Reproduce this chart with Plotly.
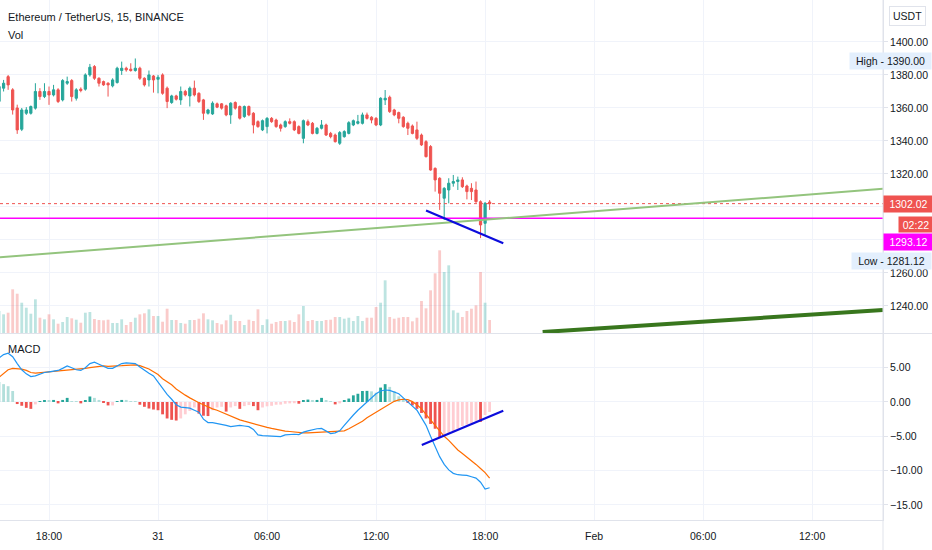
import pandas as pd
import plotly.graph_objects as go

# ---------------- data (15-minute bars, ETH/USDT) ----------------
bar_start = "2021-01-30 15:15"
bar_count = 109

opens = [1364.0, 1372.0, 1379.0, 1371.0, 1360.0, 1347.1, 1356.8, 1356.8, 1359.9, 1370.0,
         1366.9, 1370.0, 1367.9, 1371.0, 1364.9, 1375.0, 1376.6, 1365.9, 1371.4, 1371.4,
         1380.05, 1385.1, 1378.0, 1376.0, 1375.0, 1373.4, 1375.4, 1382.7, 1384.1, 1383.5,
         1382.7, 1384.1, 1378.0, 1377.0, 1379.4, 1377.4, 1380.05, 1372.0, 1363.3, 1367.3,
         1364.9, 1370.0, 1367.3, 1372.0, 1368.9, 1364.9, 1356.8, 1356.4, 1362.5, 1362.5,
         1361.3, 1355.8, 1363.3, 1360.9, 1354.8, 1360.9,
         1356.8, 1351.7, 1346.7, 1348.7, 1353.7, 1352.7, 1349.7, 1348.7, 1351.7, 1351.7,
         1348.7, 1341.6, 1351.7, 1350.7, 1344.6, 1347.7, 1349.7, 1344.6, 1343.6, 1338.6,
         1342.6, 1344.6, 1349.7, 1350.7, 1350.7, 1355.8, 1354.4, 1353.7, 1349.7, 1364.9,
         1366.5, 1358.8, 1357.2, 1354.4, 1350.7, 1349.1, 1346.7, 1343.6, 1339.6, 1336.6,
         1323.4, 1317.4, 1305.3, 1310.3, 1314.4, 1315.4, 1316.4, 1312.7, 1311.3, 1310.3,
         1303.2, 1290.1, 1303.0]
highs = [1375.0, 1377.0, 1380.0, 1372.0, 1362.0, 1360.0, 1360.5, 1361.5, 1375.0, 1372.0,
         1375.0, 1373.0, 1374.0, 1372.0, 1377.5, 1379.0, 1377.5, 1372.0, 1372.5, 1381.0,
         1386.7, 1386.0, 1378.6, 1376.6, 1375.6, 1378.0, 1385.0, 1388.1, 1385.0, 1387.1,
         1390.0, 1385.0, 1378.6, 1382.7, 1380.0, 1380.05, 1381.0, 1373.0, 1368.0, 1368.0,
         1373.0, 1371.0, 1373.0, 1376.6, 1369.5, 1365.5, 1359.5, 1364.0, 1363.3, 1363.0,
         1362.0, 1363.5, 1364.0, 1361.5, 1361.5, 1361.5,
         1357.5, 1352.5, 1353.0, 1354.5, 1354.5, 1353.5, 1350.5, 1352.5, 1353.7, 1352.5,
         1349.5, 1353.0, 1353.0, 1351.5, 1348.5, 1352.7, 1350.5, 1345.5, 1344.5, 1346.0,
         1346.5, 1352.0, 1353.0, 1355.8, 1357.2, 1357.2, 1355.0, 1354.5, 1366.5, 1370.9,
         1367.5, 1359.5, 1357.8, 1355.0, 1351.7, 1350.0, 1351.7, 1344.5, 1340.5, 1337.5,
         1324.0, 1318.0, 1312.0, 1317.4, 1319.4, 1318.4, 1318.0, 1313.5, 1314.4, 1315.4,
         1304.0, 1303.0, 1304.2]
lows = [1362.0, 1370.0, 1371.0, 1356.0, 1344.3, 1346.0, 1355.8, 1356.0, 1359.0, 1364.9,
        1366.0, 1361.9, 1367.0, 1363.0, 1364.0, 1374.0, 1363.9, 1364.5, 1369.5, 1370.5,
        1379.0, 1377.0, 1373.0, 1373.4, 1366.9, 1372.5, 1374.8, 1380.05, 1382.0, 1382.0,
        1382.0, 1377.0, 1373.0, 1373.0, 1369.3, 1368.9, 1368.0, 1359.9, 1362.5, 1364.5,
        1361.9, 1367.0, 1360.9, 1367.0, 1363.0, 1352.8, 1356.0, 1355.8, 1359.9, 1359.0,
        1355.0, 1350.4, 1359.0, 1353.0, 1354.0, 1355.0,
        1344.6, 1348.0, 1346.0, 1344.6, 1351.0, 1348.0, 1345.7, 1348.0, 1350.0, 1346.0,
        1344.0, 1338.6, 1349.0, 1344.0, 1344.0, 1347.0, 1343.0, 1341.6, 1339.0, 1337.6,
        1342.0, 1344.0, 1349.0, 1350.0, 1350.0, 1353.0, 1350.7, 1349.0, 1349.0, 1361.8,
        1357.0, 1355.0, 1350.7, 1348.0, 1343.6, 1344.0, 1340.6, 1337.0, 1330.0, 1322.0,
        1309.3, 1298.2, 1292.1, 1302.2, 1312.3, 1310.3, 1311.5, 1304.6, 1304.2, 1302.5,
        1281.12, 1283.0, 1298.2]
closes = [1373.0, 1375.0, 1374.0, 1358.8, 1346.7, 1358.8, 1358.8, 1360.9, 1370.0, 1366.9,
          1370.0, 1367.9, 1371.0, 1363.9, 1376.6, 1376.0, 1366.9, 1371.0, 1370.6, 1380.05,
          1384.7, 1378.0, 1375.0, 1374.0, 1374.0, 1377.0, 1384.1, 1384.1, 1383.1, 1382.7,
          1384.1, 1378.0, 1374.0, 1380.05, 1377.0, 1378.6, 1368.9, 1363.9, 1367.3, 1365.3,
          1370.0, 1367.9, 1372.0, 1367.9, 1363.9, 1356.8, 1358.8, 1362.9, 1360.5, 1359.9,
          1355.8, 1362.9, 1359.9, 1353.8, 1360.9, 1355.8,
          1349.7, 1348.7, 1352.3, 1353.7, 1351.7, 1348.7, 1347.7, 1351.7, 1350.7, 1346.7,
          1344.6, 1352.3, 1349.7, 1344.6, 1347.7, 1349.7, 1343.6, 1342.6, 1339.6, 1345.1,
          1345.7, 1351.1, 1352.3, 1351.7, 1355.8, 1353.7, 1352.7, 1349.7, 1365.9, 1365.9,
          1357.8, 1355.8, 1353.7, 1348.7, 1347.7, 1344.6, 1341.6, 1337.6, 1330.5, 1322.4,
          1316.4, 1308.3, 1311.3, 1314.4, 1315.4, 1316.4, 1312.3, 1309.3, 1309.3, 1303.2,
          1289.1, 1302.2, 1302.02]
volumes = [2200, 1870, 2030, 4370, 3930, 3030, 2530, 1930, 3370, 1530,
           1370, 1870, 1370, 930, 1100, 1600, 1470, 1330, 1030, 2030,
           2100, 1400, 1300, 1270, 1330, 1000, 1000, 1370, 800, 1100,
           1530, 1870, 1970, 2370, 1700, 1700, 1130, 2430, 1300, 1300,
           1000, 930, 1300, 1300, 1430, 1970, 1370, 1270, 1000, 870,
           1270, 1830, 1200, 1200, 800, 1330,
           1200, 2370, 800, 1370, 930, 1100, 1200, 1200, 1270, 1100,
           1870, 2700, 1200, 1300, 1200, 1200, 1300, 1330, 1600, 1600,
           1430, 1530, 1200, 1700, 1200, 1530, 1530, 2600, 3030, 5270,
           1600, 1430, 1530, 1600, 1600, 1170, 1530, 3200, 2470, 4270,
           5970, 8270, 6100, 6770, 2270, 2030, 1600, 2200, 2430, 2770,
           6100, 3030, 1300]
macd_line = [6.4, 6.9, 7.1, 6.6, 5.6, 4.7, 4.1, 3.7, 3.8, 4.1,
             4.3, 4.4, 4.5, 4.6, 4.9, 5.25, 5.0, 4.7, 4.6, 5.0,
             5.6, 5.8, 5.5, 5.2, 4.9, 4.9, 5.3, 5.6, 5.7, 5.7,
             5.6, 5.1, 4.6, 4.2, 3.8, 2.9, 2.0, 1.1, 0.4, -0.4,
             -0.75, -0.8, -0.9, -1.2, -1.5, -2.5, -3.0, -3.0, -3.1, -3.2,
             -3.4, -3.6, -3.5, -3.4, -3.5, -3.6,
             -4.0, -4.8, -4.9, -4.95, -4.95, -5.0, -5.05, -4.8, -4.7, -4.7,
             -4.75, -4.4, -4.2, -4.0, -3.9, -3.85, -4.2, -4.6, -4.5, -4.2,
             -3.4, -2.6, -1.9, -1.2, -0.6, 0.0, 0.5, 1.2, 1.6, 1.75,
             1.7, 1.5, 1.2, 0.6, 0.05, -0.6, -1.2, -2.3, -3.4, -5.0,
             -6.6, -7.97, -9.1, -9.9, -10.4, -10.6, -10.65, -10.7, -10.9, -11.1,
             -11.7, -12.7, -12.5]
signal_line = [3.6, 4.2, 4.7, 4.9, 4.9, 4.8, 4.6, 4.3, 4.2, 4.3,
               4.35, 4.4, 4.45, 4.5, 4.55, 4.65, 4.7, 4.75, 4.8, 4.9,
               5.0, 5.1, 5.2, 5.25, 5.2, 5.2, 5.2, 5.3, 5.35, 5.4,
               5.4, 5.3, 5.1, 4.8, 4.4, 4.0, 3.4, 3.0, 2.5, 1.9,
               1.4, 1.0, 0.6, 0.2, -0.1, -0.4, -0.75, -1.0, -1.2, -1.5,
               -1.8, -2.1, -2.4, -2.6, -2.8, -3.0,
               -3.1, -3.3, -3.5, -3.7, -3.85, -4.0, -4.1, -4.25, -4.3, -4.4,
               -4.45, -4.5, -4.5, -4.45, -4.4, -4.35, -4.3, -4.3, -4.3, -4.25,
               -4.2, -3.9, -3.55, -3.2, -2.8, -2.3, -1.9, -1.4, -1.0, -0.6,
               -0.25, 0.1, 0.3, 0.4, 0.35, 0.05, -0.4, -1.0, -1.8, -2.6,
               -3.5, -4.2, -5.0, -5.6, -6.3, -7.0, -7.5, -8.0, -8.6, -9.1,
               -9.7, -10.3, -11.1]
histogram = [2.9, 2.6, 2.3, 1.6, -0.3, -0.55, -0.85, -1.0, -0.35, 0.1,
             0.15, 0.15, 0.3, -0.2, 0.3, 0.6, 0.1, 0.05, -0.2, 0.25,
             0.8, 0.6, 0.3, -0.1, -0.5, -0.5, 0.1, 0.3, 0.3, 0.1,
             0.05, -0.4, -0.7, -0.95, -1.1, -1.2, -1.8, -2.4, -2.6, -2.7,
             -2.4, -1.8, -1.3, -0.8, -1.7, -2.0, -2.05, -1.2, -0.8, -0.7,
             -1.4, -0.8, -0.6, -1.0, -0.6, -0.45,
             -0.6, -1.2, -0.8, -0.63, -0.55, -0.4, -0.38, -0.25, -0.2, -0.18,
             -0.25, 0.25, 0.35, 0.25, 0.3, 0.6, 0.25, 0.05, -0.35, -0.2,
             0.2, 0.5, 0.97, 1.2, 1.6, 1.62, 1.55, 1.35, 2.1, 2.6,
             2.2, 1.6, 0.83, 0.5, -0.15, -0.5, -1.0, -1.6, -2.4, -3.2,
             -3.9, -5.1, -4.8, -4.6, -4.4, -3.9, -3.5, -3.3, -3.1, -2.75,
             -2.9, -1.9, -1.45]

# time axis
view_range = ["2021-01-30 15:18:10", "2021-02-01 15:54:00"]
time_ticks = ["2021-01-30 18:00", "2021-01-31 00:00", "2021-01-31 06:00", "2021-01-31 12:00",
              "2021-01-31 18:00", "2021-02-01 00:00", "2021-02-01 06:00", "2021-02-01 12:00"]
time_tick_labels = ["18:00", "31", "06:00", "12:00", "18:00", "Feb", "06:00", "12:00"]
price_ticks = [1240, 1260, 1280, 1300, 1320, 1340, 1360, 1380, 1400]
price_ticks_hidden = [1280, 1300]   # covered by the price labels on the scale
macd_ticks = [-15, -10, -5, 0, 5]

# chart drawings (user-drawn objects)
light_trend_t = ["2021-01-30 15:18:10", "2021-02-01 15:54:00"]
light_trend_p = [1269.5, 1311.0]
dark_trend_t = ["2021-01-31 21:10", "2021-02-01 15:54:00"]
dark_trend_p = [1224.2, 1237.6]
price_div_t = ["2021-01-31 14:45", "2021-01-31 19:00"]
price_div_p = [1297.8, 1278.0]
macd_div_t = ["2021-01-31 14:31", "2021-01-31 19:00"]
macd_div_v = [-6.27, -1.27]
hline_level = 1293.12
last_price = 1302.02
high_value = 1390.00
low_value = 1281.12
countdown = "02:22"

# ---------------- figure ----------------
times = pd.date_range(bar_start, periods=bar_count, freq="15min")
UP, DOWN = "#26a69a", "#ef5350"
GRID = "#f0f3fa"
AXLINE = "#e0e3eb"
TXT = "#131722"
AXFONT = "Liberation Sans Narrow, Liberation Sans, Arial"
TICKFONT = dict(family=AXFONT, size=10.5, color=TXT)

price_tick_text = ["" if v in price_ticks_hidden else "%.2f" % v for v in price_ticks]

vol_colors = ["rgba(38,166,154,0.3)" if c >= o else "rgba(239,83,80,0.3)"
              for o, c in zip(opens, closes)]
hist_colors = []
for k, v in enumerate(histogram):
    prev = histogram[k - 1] if k > 0 else v
    if v >= 0:
        hist_colors.append("#26a69a" if v > prev else "#b2dfdb")
    else:
        hist_colors.append("#ef5350" if v < prev else "#ffcdd2")

bar_w = 15 * 60 * 1000 * 0.62

fig = go.Figure()
fig.add_trace(go.Bar(x=times, y=volumes, marker_color=vol_colors, marker_line_width=0,
                     width=bar_w, xaxis="x2", yaxis="y3"))
fig.add_trace(go.Scatter(x=view_range, y=[last_price, last_price], mode="lines",
                         line=dict(color="#ef5350", width=1, dash="dot"), xaxis="x2", yaxis="y"))
fig.add_trace(go.Scatter(x=view_range, y=[hline_level, hline_level], mode="lines",
                         line=dict(color="#ff00ff", width=1.5), xaxis="x2", yaxis="y"))
fig.add_trace(go.Scatter(x=light_trend_t, y=light_trend_p, mode="lines",
                         line=dict(color="#93c47d", width=2), xaxis="x2", yaxis="y"))
fig.add_trace(go.Scatter(x=dark_trend_t, y=dark_trend_p, mode="lines",
                         line=dict(color="#38761d", width=4), xaxis="x2", yaxis="y"))
fig.add_trace(go.Candlestick(x=times, open=opens, high=highs, low=lows, close=closes,
                             increasing=dict(line=dict(color=UP, width=1), fillcolor=UP),
                             decreasing=dict(line=dict(color=DOWN, width=1), fillcolor=DOWN),
                             whiskerwidth=0, xaxis="x2", yaxis="y"))
fig.add_trace(go.Scatter(x=price_div_t, y=price_div_p, mode="lines",
                         line=dict(color="#0c0cdc", width=2.2), xaxis="x2", yaxis="y"))

fig.add_trace(go.Bar(x=times, y=histogram, marker_color=hist_colors, marker_line_width=0,
                     width=bar_w, xaxis="x", yaxis="y2"))
fig.add_trace(go.Scatter(x=times, y=signal_line, mode="lines",
                         line=dict(color="#ff6d00", width=1.2), xaxis="x", yaxis="y2"))
fig.add_trace(go.Scatter(x=times, y=macd_line, mode="lines",
                         line=dict(color="#2196f3", width=1.2), xaxis="x", yaxis="y2"))
fig.add_trace(go.Scatter(x=macd_div_t, y=macd_div_v, mode="lines",
                         line=dict(color="#0c0cdc", width=2.2), xaxis="x", yaxis="y2"))

PRICE_DOM = [0.3596, 1.0]
MACD_DOM = [0.0, 0.3577]

fig.update_layout(
    width=932, height=550,
    margin=dict(l=0, r=49, t=0, b=30, autoexpand=False),
    paper_bgcolor="white", plot_bgcolor="white",
    showlegend=False, hovermode=False, barmode="overlay",
    font=dict(family="Liberation Sans, Arial", size=11, color=TXT),
    xaxis=dict(domain=[0, 1], anchor="y2", type="date", range=view_range,
               tickvals=time_ticks, ticktext=time_tick_labels, tickfont=TICKFONT,
               showgrid=True, gridcolor=GRID, gridwidth=1, zeroline=False,
               showline=True, linecolor=AXLINE, ticks="", ticklabelstandoff=6,
               rangeslider=dict(visible=False), fixedrange=True, automargin=False),
    xaxis2=dict(domain=[0, 1], anchor="y", type="date", matches="x", range=view_range,
                tickvals=time_ticks, showticklabels=False,
                showgrid=True, gridcolor=GRID, gridwidth=1, zeroline=False,
                showline=False, ticks="", rangeslider=dict(visible=False), automargin=False),
    yaxis=dict(domain=PRICE_DOM, anchor="x2", side="right", range=[1223.6, 1425.45],
               tickvals=price_ticks, ticktext=price_tick_text, tickfont=TICKFONT,
               automargin=False, showgrid=True, gridcolor=GRID, zeroline=False,
               showline=True, linecolor=AXLINE, ticks="outside", ticklen=4, tickcolor=AXLINE),
    yaxis3=dict(overlaying="y", anchor="x2", range=[0, 33300], visible=False),
    yaxis2=dict(domain=MACD_DOM, anchor="x", side="right", range=[-17.2, 9.91],
                tickvals=macd_ticks, tickformat=".2f", tickfont=TICKFONT, automargin=False,
                showgrid=True, gridcolor=GRID, zeroline=False,
                showline=True, linecolor=AXLINE, ticks="outside", ticklen=4, tickcolor=AXLINE),
)

shapes = [
    dict(type="line", xref="paper", yref="paper", x0=1, x1=1, y0=-0.06, y1=1.0,
         line=dict(color=AXLINE, width=1)),
    dict(type="line", xref="paper", yref="paper", x0=0, x1=1.06, y0=0.3587, y1=0.3587,
         line=dict(color=AXLINE, width=1)),
]
fig.update_layout(shapes=shapes)

lab = dict(family=AXFONT, size=10.5)
legend_font = dict(family="Liberation Sans, Arial", size=11, color=TXT)
annotations = [
    dict(text="Ethereum / TetherUS, 15, BINANCE", xref="paper", yref="paper", x=0, y=1,
         xanchor="left", yanchor="middle", xshift=6, yshift=-17, showarrow=False,
         font=legend_font),
    dict(text="Vol", xref="paper", yref="paper", x=0, y=1,
         xanchor="left", yanchor="middle", xshift=6, yshift=-35, showarrow=False,
         font=legend_font),
    dict(text="MACD", xref="paper", yref="paper", x=0, y=MACD_DOM[1],
         xanchor="left", yanchor="middle", xshift=6, yshift=-15, showarrow=False,
         font=legend_font),
    dict(text="USDT", xref="paper", yref="paper", x=1, y=1, xanchor="center", yanchor="middle",
         xshift=24.5, yshift=-16, showarrow=False, bgcolor="white", bordercolor=AXLINE,
         borderwidth=1, borderpad=3, font=dict(lab, color=TXT)),
    dict(text="High - %.2f" % high_value, xref="paper", yref="y", x=1, y=high_value,
         xanchor="right", yanchor="middle", xshift=49, yshift=-2.5, showarrow=False,
         bgcolor="#e3effd", borderpad=2, width=77, height=12, font=dict(lab, color=TXT)),
    dict(text="%.2f" % last_price, xref="paper", yref="y", x=1, y=last_price,
         xanchor="left", yanchor="middle", showarrow=False,
         bgcolor="#ef5350", borderpad=2, width=45, height=12, font=dict(lab, color="white")),
    dict(text=countdown, xref="paper", yref="y", x=1, y=last_price,
         xanchor="left", yanchor="middle", xshift=15, yshift=-20.5, showarrow=False,
         bgcolor="#ef5350", borderpad=2, width=30, height=11, font=dict(lab, color="white")),
    dict(text="%.2f" % hline_level, xref="paper", yref="y", x=1, y=hline_level,
         xanchor="left", yanchor="middle", yshift=-24, showarrow=False,
         bgcolor="#ff00ff", borderpad=2, width=45, height=12, font=dict(lab, color="white")),
    dict(text="Low - %.2f" % low_value, xref="paper", yref="y", x=1, y=low_value,
         xanchor="right", yanchor="middle", xshift=49, yshift=-22.5, showarrow=False,
         bgcolor="#e3effd", borderpad=2, width=75, height=12, font=dict(lab, color=TXT)),
]
fig.update_layout(annotations=annotations)

fig.write_html("out.html", config={"displayModeBar": False},
               post_script="document.body.style.margin='0';")
